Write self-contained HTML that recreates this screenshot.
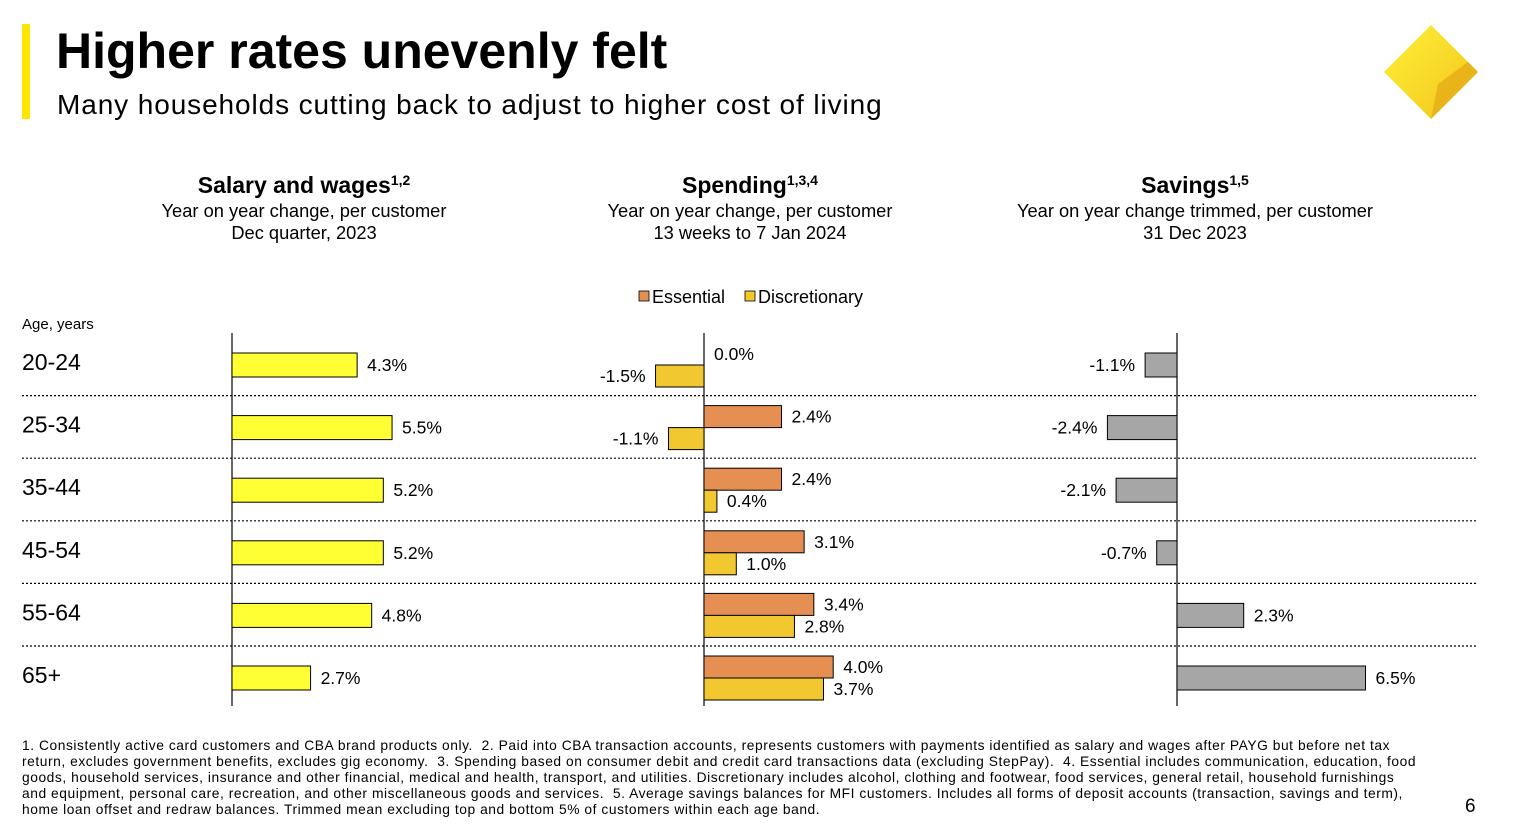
<!DOCTYPE html>
<html><head><meta charset="utf-8"><style>
body{margin:0;width:1517px;height:832px;background:#fff;font-family:"Liberation Sans",Arial,sans-serif;overflow:hidden;position:relative}
.t{position:absolute;white-space:nowrap}
</style></head><body>
<div style="position:absolute;left:22px;top:24px;width:8px;height:95px;background:#ffe600"></div>
<div class="t" style="left:56px;top:22px;font-size:50px;font-weight:bold;color:#000">Higher rates unevenly felt</div>
<div class="t" style="left:57px;top:89px;font-size:28px;letter-spacing:0.9px;color:#000">Many households cutting back to adjust to higher cost of living</div>
<svg style="position:absolute;left:1380px;top:22px" width="102" height="100" viewBox="0 0 102 100">
<defs><linearGradient id="lg" x1="0" y1="0" x2="1" y2="1"><stop offset="0" stop-color="#fff23a"/><stop offset="1" stop-color="#f2c21a"/></linearGradient></defs>
<polygon points="51,3 98,50 51,97 4,50" fill="url(#lg)"/>
<polygon points="88,40 98,50 51,97 58,62" fill="#e8b41a"/>
</svg>
<svg id="c" width="1517" height="832" style="position:absolute;left:0;top:0"></svg>
<div class="t" style="left:22px;top:738px;font-size:13.8px;letter-spacing:0.55px;line-height:16px;color:#000;white-space:normal;width:1395px">1. Consistently active card customers and CBA brand products only.&nbsp; 2. Paid into CBA transaction accounts, represents customers with payments identified as salary and wages after PAYG but before net tax return, excludes government benefits, excludes gig economy.&nbsp; 3. Spending based on consumer debit and credit card transactions data (excluding StepPay).&nbsp; 4. Essential includes communication, education, food goods, household services, insurance and other financial, medical and health, transport, and utilities. Discretionary includes alcohol, clothing and footwear, food services, general retail, household furnishings and equipment, personal care, recreation, and other miscellaneous goods and services.&nbsp; 5. Average savings balances for MFI customers. Includes all forms of deposit accounts (transaction, savings and term), home loan offset and redraw balances. Trimmed mean excluding top and bottom 5% of customers within each age band.</div>
<div class="t" style="left:1465px;top:796px;font-size:19px">6</div>
<script>
const ages=["20-24","25-34","35-44","45-54","55-64","65+"];
const salary=[4.3,5.5,5.2,5.2,4.8,2.7];
const essential=[0.0,2.4,2.4,3.1,3.4,4.0];
const discretionary=[-1.5,-1.1,0.4,1.0,2.8,3.7];
const savings=[-1.1,-2.4,-2.1,-0.7,2.3,6.5];
const svg=document.getElementById('c');const NS='http://www.w3.org/2000/svg';
function mk(t,a,txt){const e=document.createElementNS(NS,t);for(const k in a)e.setAttribute(k,a[k]);if(txt!=null)e.textContent=txt;svg.appendChild(e);return e;}
const top0=333,rowH=62.6;
const rowTop=i=>top0+rowH*i;
const xSal=v=>232+v*29.1, xSp=v=>704+v*32.3, xSv=v=>1177+v*29;
function fmt(v){return v.toFixed(1)+'%';}
const heads=[[304,"Salary and wages","1,2","Year on year change, per customer","Dec quarter, 2023"],[750,"Spending","1,3,4","Year on year change, per customer","13 weeks to 7 Jan 2024"],[1195,"Savings","1,5","Year on year change trimmed, per customer","31 Dec 2023"]];
heads.forEach((h,i)=>{let t=mk('text',{x:h[0],y:193,'text-anchor':'middle','font-size':23,'font-weight':'bold'});t.innerHTML=h[1]+'<tspan font-size="14" dy="-8">'+h[2]+'</tspan>';
let a=mk('text',{x:h[0],y:217,'text-anchor':'middle','font-size':18.3},h[3]);
let b=mk('text',{x:h[0],y:239,'text-anchor':'middle','font-size':18.3},h[4]);});
let l1=mk('rect',{x:639,y:291,width:10,height:10,fill:'#e59052',stroke:'#000','stroke-width':0.8});
let l2=mk('text',{x:652,y:303,'font-size':18},'Essential');
let l3=mk('rect',{x:745,y:291,width:10,height:10,fill:'#f2c830',stroke:'#000','stroke-width':0.8});
let l4=mk('text',{x:758,y:303,'font-size':18},'Discretionary');
let ay=mk('text',{x:22,y:329,'font-size':15},'Age, years');
for(let i=1;i<ages.length;i++){let d=mk('line',{x1:22,x2:1478,y1:rowTop(i),y2:rowTop(i),stroke:'#000','stroke-width':1.2,'stroke-dasharray':'2,2'});}
[232,704,1177].forEach(x=>{let a=mk('line',{x1:x,x2:x,y1:top0,y2:706,stroke:'#000','stroke-width':1.2});});
function bar(xf,v,y,h,fill,name){const x0=xf(0),x1=xf(v);let r=mk('rect',{x:Math.min(x0,x1),y:y,width:Math.abs(x1-x0),height:h,fill:fill,stroke:'#000','stroke-width':1});
let t=mk('text',{x:v>=0?Math.max(x1,x0)+10:x1-10,y:y+h/2+6,'font-size':17.5,'text-anchor':v>=0?'start':'end'},fmt(v));}
ages.forEach((a,i)=>{const t=rowTop(i);
let lab=mk('text',{x:22,y:t+37,'font-size':23},a);
bar(xSal,salary[i],t+20,24,'#ffff33','salary-bar-'+a);
bar(xSp,essential[i],t+10,22,'#e59052','essential-bar-'+a);
bar(xSp,discretionary[i],t+32,22,'#f2c830','discretionary-bar-'+a);
bar(xSv,savings[i],t+20,24,'#a6a6a6','savings-bar-'+a);
});
</script>
</body></html>
